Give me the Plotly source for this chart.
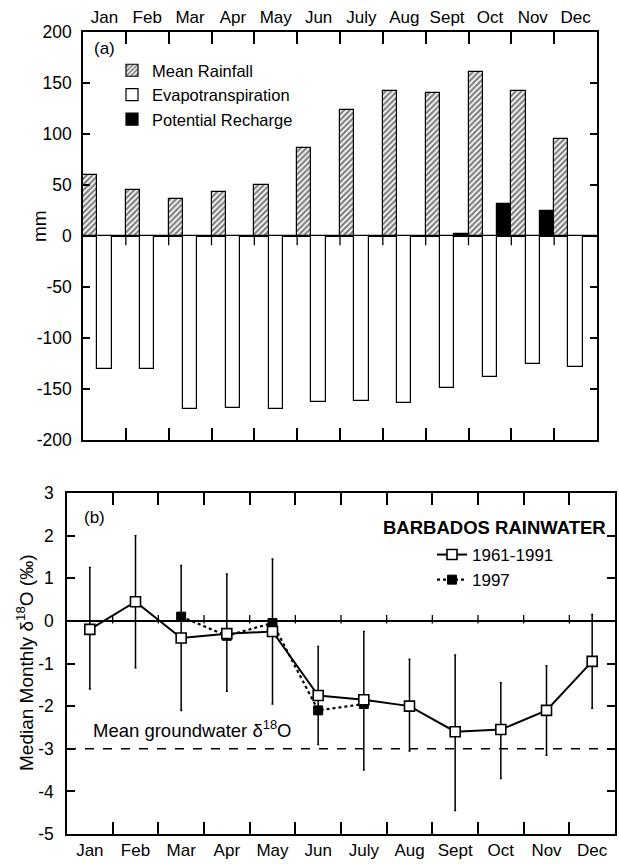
import plotly.graph_objects as go

# ---------------- data ----------------
months = ["Jan", "Feb", "Mar", "Apr", "May", "Jun", "July", "Aug", "Sept", "Oct", "Nov", "Dec"]

# panel (a), mm
mean_rainfall = [60, 45, 36, 43, 50, 86, 124, 142, 140, 161, 142, 95]
evapotranspiration = [-130, -130, -170, -169, -170, -163, -162, -164, -149, -138, -125, -128]
potential_recharge = [0, 0, 0, 0, 0, 0, 0, 0, 2, 31, 25, 0]

a_tickvals = [200, 150, 100, 50, 0, -50, -100, -150, -200]
a_ticktext = ["200", "150", "100", "50", "0", "-50", "-100", "-150", "-200"]

# panel (b), delta 18O permil
median_1961_1991 = [-0.2, 0.45, -0.4, -0.3, -0.25, -1.75, -1.85, -2.0, -2.6, -2.55, -2.1, -0.95]
upper_1961_1991 = [1.25, 2.0, 1.3, 1.1, 1.45, -0.6, -0.25, -0.9, -0.8, -1.45, -1.05, 0.15]
lower_1961_1991 = [-1.6, -1.1, -2.1, -1.65, -1.95, -2.9, -3.5, -3.05, -4.45, -3.7, -3.15, -2.05]
median_1997 = [None, None, 0.1, -0.35, -0.05, -2.1, -1.95, None, None, None, None, None]
groundwater_mean = -3.0

b_tickvals = [3, 2, 1, 0, -1, -2, -3, -4, -5]
b_ticktext = ["3", "2", "1", "0", "-1", "-2", "-3", "-4", "-5"]

# ---------------- figure ----------------
W, H = 619, 864
FONT = "Liberation Sans, Arial, Helvetica, sans-serif"


def px_x(p):
    return p / W


def px_y(p):
    return 1 - p / H


fig = go.Figure()

fig.add_trace(go.Bar(
    x=months, y=mean_rainfall, name="Mean Rainfall", xaxis="x", yaxis="y",
    marker=dict(color="white", line=dict(color="black", width=1.2),
                pattern=dict(shape="/", fgcolor="black", bgcolor="white", size=4, solidity=0.55)),
    legend="legend",
))
fig.add_trace(go.Bar(
    x=months, y=evapotranspiration, name="Evapotranspiration", xaxis="x", yaxis="y",
    marker=dict(color="white", line=dict(color="black", width=1.2)),
    legend="legend",
))
fig.add_trace(go.Bar(
    x=months, y=potential_recharge, name="Potential Recharge", xaxis="x", yaxis="y",
    marker=dict(color="black", line=dict(color="black", width=1.2)),
    legend="legend",
))

# panel (b)
fig.add_trace(go.Scatter(
    x=months, y=median_1997, name="1997", xaxis="x2", yaxis="y2",
    mode="lines+markers", connectgaps=False,
    line=dict(color="black", width=2.2, dash="dot"),
    marker=dict(symbol="square", size=9, color="black", line=dict(color="black", width=1)),
    legend="legend2", legendrank=2,
))
fig.add_trace(go.Scatter(
    x=months, y=median_1961_1991, name="1961-1991", xaxis="x2", yaxis="y2",
    mode="lines+markers",
    line=dict(color="black", width=2),
    marker=dict(symbol="square", size=10, color="white", line=dict(color="black", width=1.6)),
    error_y=dict(type="data", symmetric=False,
                 array=[u - m for u, m in zip(upper_1961_1991, median_1961_1991)],
                 arrayminus=[m - l for m, l in zip(median_1961_1991, lower_1961_1991)],
                 color="black", thickness=1.5, width=1),
    legend="legend2", legendrank=1,
))

TICKFONT = dict(family=FONT, size=17.5, color="black")
axis_common = dict(showline=True, linecolor="black", linewidth=1.5, showgrid=False,
                   ticks="inside", tickcolor="black", tickwidth=2, mirror="ticks",
                   layer="above traces", tickfont=TICKFONT, automargin=False)

shapes = []
# small ticks on zero lines at month boundaries
for k in range(len(months) - 1):
    shapes.append(dict(type="line", xref="x", yref="y", x0=k + 0.5, x1=k + 0.5,
                       y0=-9, y1=0, line=dict(color="black", width=1.3)))
    shapes.append(dict(type="line", xref="x2", yref="y2", x0=k + 0.5, x1=k + 0.5,
                       y0=-0.06, y1=0.14, line=dict(color="black", width=1.3)))
shapes.append(dict(type="line", xref="x2 domain", yref="y2", x0=0, x1=1,
                   y0=groundwater_mean, y1=groundwater_mean,
                   line=dict(color="black", width=1.6, dash="dash")))

fig.update_layout(
    width=W, height=H,
    margin=dict(l=0, r=0, t=0, b=0, autoexpand=False),
    paper_bgcolor="white", plot_bgcolor="white",
    font=dict(family=FONT, size=16, color="black"),
    barmode="group", bargap=0, bargroupgap=0,
    xaxis=dict(axis_common, type="category", side="top", tickson="boundaries", ticklen=12,
               tickangle=0, domain=[px_x(83), px_x(597)], anchor="y", range=[-0.5, 11.5],
               tickfont=dict(family=FONT, size=17, color="black")),
    yaxis=dict(axis_common, domain=[px_y(440), px_y(32)], anchor="x", range=[-200, 200],
               tickvals=a_tickvals, ticktext=a_ticktext, ticklen=7, ticklabelstandoff=6,
               zeroline=True, zerolinecolor="black", zerolinewidth=1.6),
    xaxis2=dict(axis_common, type="category", side="bottom", tickson="boundaries", ticklen=12,
                tickangle=0, domain=[px_x(67), px_x(615)], anchor="y2", range=[-0.5, 11.5],
                ticklabelstandoff=0, tickfont=dict(family=FONT, size=17, color="black")),
    yaxis2=dict(axis_common, domain=[px_y(834), px_y(493)], anchor="x2", range=[-5, 3],
                tickvals=b_tickvals, ticktext=b_ticktext, ticklen=8, ticklabelstandoff=8,
                zeroline=True, zerolinecolor="black", zerolinewidth=1.6),
    legend=dict(x=px_x(112), y=px_y(53), xanchor="left", yanchor="top",
                bgcolor="rgba(0,0,0,0)", font=dict(family=FONT, size=16.5, color="black"),
                itemwidth=30, tracegroupgap=0),
    legend2=dict(x=px_x(432), y=px_y(537), xanchor="left", yanchor="top",
                 bgcolor="rgba(0,0,0,0)", font=dict(family=FONT, size=17, color="black"),
                 itemwidth=30, tracegroupgap=0),
    shapes=shapes,
    annotations=[
        dict(text="(a)", x=px_x(92), y=px_y(48), xref="paper", yref="paper",
             xanchor="left", yanchor="middle", showarrow=False, font=dict(size=17)),
        dict(text="mm", x=px_x(39), y=px_y(226), xref="paper", yref="paper",
             textangle=-90, xanchor="center", yanchor="middle", showarrow=False, font=dict(size=19)),
        dict(text="(b)", x=px_x(82), y=px_y(517), xref="paper", yref="paper",
             xanchor="left", yanchor="middle", showarrow=False, font=dict(size=17)),
        dict(text="<b>BARBADOS RAINWATER</b>", x=px_x(608), y=px_y(527), xref="paper", yref="paper",
             xanchor="right", yanchor="middle", showarrow=False, font=dict(size=18.5)),
        dict(text="Median Monthly δ<sup>18</sup>O (‰)", x=px_x(25), y=px_y(663),
             xref="paper", yref="paper", textangle=-90, xanchor="center", yanchor="middle",
             showarrow=False, font=dict(size=19)),
        dict(text="Mean groundwater δ<sup>18</sup>O", x=px_x(91), y=px_y(729),
             xref="paper", yref="paper", xanchor="left", yanchor="middle",
             showarrow=False, font=dict(size=18.5)),
    ],
)

fig.write_html("out.html")
